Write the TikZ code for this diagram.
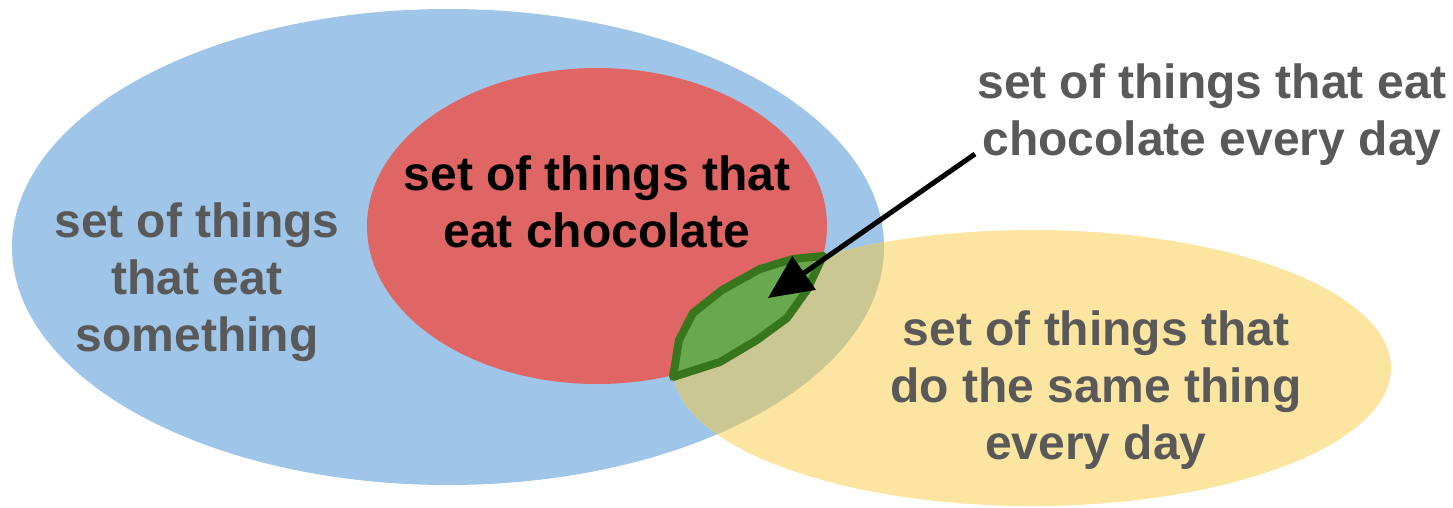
\documentclass[tikz,border=0pt]{standalone}
\usepackage{fontspec}
\setmainfont{Liberation Sans}
\usetikzlibrary{arrows.meta}
\definecolor{cblue}{HTML}{9FC5E8}
\definecolor{cred}{HTML}{E06666}
\definecolor{cyellow}{HTML}{FCE5A0}
\definecolor{ckhaki}{HTML}{CAC793}
\definecolor{cgreen}{HTML}{6AA84F}
\definecolor{cdgreen}{HTML}{38761D}
\definecolor{cgray}{HTML}{595959}
\tikzset{
  lbl/.style={align=center, font=\fontsize{48}{57}\selectfont\bfseries, inner sep=0pt},
}
\begin{document}
\begin{tikzpicture}[x=1pt,y=-1pt]
\useasboundingbox (0,0) rectangle (1453,507);
% blue
\fill[cblue] (448,247) ellipse [x radius=436, y radius=238];
% red
\fill[cred] (597,226) ellipse [x radius=230, y radius=158];
% yellow
\fill[cyellow] (1032,368) ellipse [x radius=359, y radius=138];
\begin{scope}
  \clip (448,247) ellipse [x radius=436, y radius=238];
  \fill[ckhaki] (1032,368) ellipse [x radius=359, y radius=138];
\end{scope}
% green lens
\draw[cdgreen, fill=cgreen, line width=8pt, line join=round]
  (823,256) -- (793,259) -- (760,269) -- (722,290) -- (693,313) -- (679,340) -- (673,377)
  -- (720,362) -- (757,340) -- (787,318) -- (807,290) -- cycle;
% labels
\node[lbl, text=cgray] (eat) at (197,282) {set of things\\that eat\\something};
\node[lbl, text=black] (choc) at (597,202) {set of things that\\eat chocolate};
\node[lbl, text=cgray] (same) at (1096,390) {set of things that\\do the same thing\\every day};
\node[lbl, text=cgray] (both) at (1212,115) {set of things that eat\\chocolate every day};
\coordinate (astart) at (975,154);
\coordinate (atip) at (768,298);
\draw[line width=5pt, -{Triangle[length=44pt,width=40pt]}] (astart) -- (atip);
\end{tikzpicture}
\end{document}
